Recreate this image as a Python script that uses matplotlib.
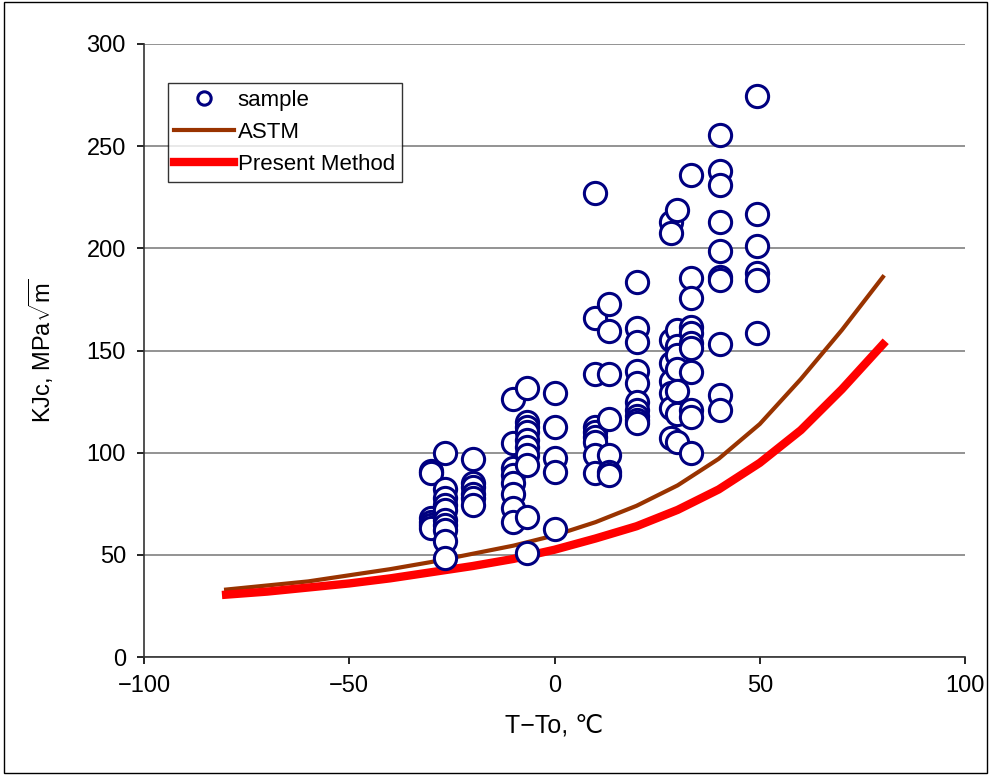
import numpy as np
import matplotlib
matplotlib.use("Agg")
import matplotlib.pyplot as plt
from matplotlib.patches import Rectangle

plt.rcParams['font.family'] = ['Liberation Sans', 'DejaVu Sans']
plt.rcParams['mathtext.fontset'] = 'custom'
plt.rcParams['mathtext.rm'] = 'Liberation Sans'

# sample data, grouped by test temperature T-To
group_t = [-30.2, -26.6, -19.8, -10.2, -6.6, 0.2, 9.8, 13.2, 20.2, 28.3, 29.8, 33.2, 40.2, 49.3]
group_k = [
    [91, 90, 68, 66, 64.5, 63],
    [100, 82, 78, 74.5, 72, 67, 64.5, 62, 57, 48.5],
    [97, 85, 83, 80, 78, 74.5],
    [126.5, 104.5, 92.5, 89, 85, 80, 73, 66],
    [131.5, 115, 112.5, 110, 106, 103, 99, 94, 68.5, 51],
    [129, 112.5, 97.5, 90.5, 62.5],
    [227, 166, 138.5, 112.5, 110, 107.5, 105, 99, 90],
    [173, 159.5, 138.5, 116.5, 99, 90.5, 89],
    [183.5, 161, 154, 140, 134, 125, 121, 118, 116, 114.5],
    [213, 207.5, 155, 144, 135, 129, 122, 107],
    [219, 160, 152, 148, 141, 130, 119, 105],
    [236, 185.5, 175.5, 161.5, 158.5, 153.5, 151, 139.5, 121, 117.5, 100],
    [255.5, 238, 231, 213, 198.5, 186, 184.5, 153, 128, 121],
    [274.5, 217, 201, 188, 184.5, 158.5],
]

# curves
curve_t = [-80, -70, -60, -50, -40, -30, -20, -10, 0, 10, 20, 30, 40, 50, 60, 70, 80]
astm = [33, 35, 37, 40, 43, 46.5, 50.5, 54.5, 59.5, 66, 74, 84, 97, 114, 136, 160, 186]
present = [30.5, 32, 34, 36, 38.5, 41.5, 44.5, 48, 52.5, 58, 64, 72, 82, 95, 111, 131, 153]

sample_t = [t for t, ks in zip(group_t, group_k) for _ in ks]
sample_k = [k for ks in group_k for k in ks]

#%%
fig = plt.figure(figsize=(9.9, 7.76), dpi=100)
ax = fig.add_axes([144/990, 1-657/776, 821/990, 613/776])

ax.plot(sample_t, sample_k, 'o', ms=16, mfc='white', mec='#000080', mew=2.2,
        label='sample', zorder=3)
ax.plot(curve_t, astm, color='#993300', lw=3.0, label='ASTM', zorder=2)
ax.plot(curve_t, present, color='#FF0000', lw=6.0, label='Present Method', zorder=2)

ax.set_xlim(-100, 100)
ax.set_ylim(0, 300)
ax.set_xticks(np.arange(-100, 101, 50))
ax.set_yticks(np.arange(0, 301, 50))
ax.yaxis.grid(True, color='#808080', lw=1.2)
ax.set_axisbelow(True)
for s in ['top', 'right']:
    ax.spines[s].set_visible(False)
for s in ['left', 'bottom']:
    ax.spines[s].set_color('#333333')
    ax.spines[s].set_linewidth(1.2)
ax.tick_params(direction='out', length=5, width=1.2, labelsize=17, pad=8)

ax.set_xlabel('T\u2212To, \u2103', fontsize=18, labelpad=12)
ax.set_ylabel(r'KJc, MPa$\sqrt{\mathrm{m}}$', fontsize=17, labelpad=22)

leg = ax.legend(loc='upper left', bbox_to_anchor=(0.029, 0.936), borderaxespad=0,
                fontsize=16, frameon=True, fancybox=False, edgecolor='black',
                markerscale=0.6, handlelength=2.7, handletextpad=0.15,
                labelspacing=0.5, borderpad=0.3)
leg.get_frame().set_linewidth(1.0)

fig.patches.append(Rectangle((0.004, 0.004), 0.993, 0.993, transform=fig.transFigure,
                             fill=False, edgecolor='black', lw=1.0))

plt.savefig('out.png', dpi=100)
